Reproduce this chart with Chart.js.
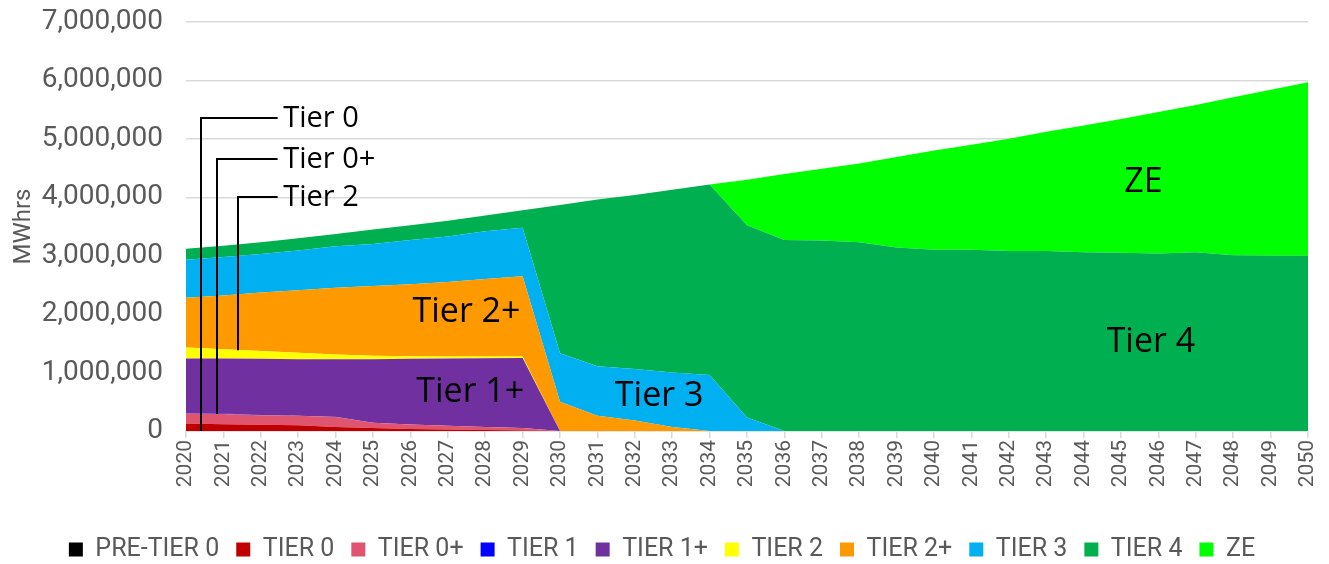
<!DOCTYPE html>
<html>
<head>
<meta charset="utf-8">
<script src="https://cdn.jsdelivr.net/npm/chart.js@4.4.1/dist/chart.umd.min.js"></script>
<style>
  html, body { margin: 0; padding: 0; background: #ffffff; }
  #wrap { width: 1329px; height: 564px; position: relative; }
</style>
</head>
<body>
<div id="wrap"><canvas id="c" width="1329" height="564"></canvas></div>
<script>
const years = ['2020','2021','2022','2023','2024','2025','2026','2027','2028','2029','2030',
  '2031','2032','2033','2034','2035','2036','2037','2038','2039','2040',
  '2041','2042','2043','2044','2045','2046','2047','2048','2049','2050'];

const preTier0 = [0,0,0,0,0,0,0,0,0,0,0,0,0,0,0,0,0,0,0,0,0,0,0,0,0,0,0,0,0,0,0];
const tier0 = [130000,115000,105000,100000,70000,50000,35000,25000,15000,10000,
  0,0,0,0,0,0,0,0,0,0,0,0,0,0,0,0,0,0,0,0,0];
const tier0plus = [170000,175000,165000,160000,170000,90000,75000,65000,55000,40000,
  0,0,0,0,0,0,0,0,0,0,0,0,0,0,0,0,0,0,0,0,0];
const tier1 = [10000,8000,5000,3000,2000,0,0,0,0,0,
  0,0,0,0,0,0,0,0,0,0,0,0,0,0,0,0,0,0,0,0,0];
const tier1plus = [930000,942000,960000,967000,988000,1090000,1125000,1150000,1175000,1200000,
  0,0,0,0,0,0,0,0,0,0,0,0,0,0,0,0,0,0,0,0,0];
const tier2 = [190000,160000,135000,110000,80000,60000,45000,35000,30000,25000,
  0,0,0,0,0,0,0,0,0,0,0,0,0,0,0,0,0,0,0,0,0];
const tier2plus = [850000,920000,1000000,1070000,1140000,1190000,1230000,1275000,1325000,1375000,
  500000,260000,180000,70000,0,0,0,0,0,0,0,0,0,0,0,0,0,0,0,0,0];
const tier3 = [650000,660000,660000,680000,710000,720000,760000,780000,820000,830000,
  830000,850000,880000,930000,960000,230000,0,0,0,0,0,0,0,0,0,0,0,0,0,0,0];
const tier4 = [190000,190000,200000,210000,210000,250000,250000,270000,270000,300000,
  2540000,2850000,2980000,3130000,3260000,3290000,3270000,3260000,3230000,3140000,3100000,
  3100000,3080000,3080000,3060000,3050000,3040000,3060000,3010000,3000000,3000000];
const ze = [0,0,0,0,0,0,0,0,0,0,0,0,0,0,0,
  780000,1130000,1230000,1350000,1550000,1700000,1800000,1920000,2040000,2170000,
  2290000,2420000,2520000,2700000,2840000,2970000];

const seriesNames = ['PRE-TIER 0','TIER 0','TIER 0+','TIER 1','TIER 1+','TIER 2','TIER 2+','TIER 3','TIER 4','ZE'];
const seriesData = [preTier0, tier0, tier0plus, tier1, tier1plus, tier2, tier2plus, tier3, tier4, ze];
const seriesColors = ['#000000','#C00000','#E0546F','#0000FF','#7030A0','#FFFF00','#FF9900','#00B0F0','#00B050','#00FF00'];

const yTicks = [0,1000000,2000000,3000000,4000000,5000000,6000000,7000000];

// annotation texts: [text, year position, value]
const areaLabels = [
  ['Tier 2+', 2027.5, 2030000],
  ['Tier 1+', 2027.6, 660000],
  ['Tier 3', 2032.65, 590000],
  ['Tier 4', 2045.8, 1520000],
  ['ZE', 2045.6, 4250000]
];
// leader labels: [text, vertical line year, bottom value, horizontal line value]
const leaderLabels = [
  ['Tier 0', 2020.4, 0, 5350000],
  ['Tier 0+', 2020.82, 290000, 4650000],
  ['Tier 2', 2021.39, 1380000, 4000000]
];
const leaderEndYear = 2022.45;
const leaderTextYear = 2022.6;

const datasets = seriesNames.map((name, i) => ({
  label: name,
  data: seriesData[i],
  backgroundColor: seriesColors[i],
  borderColor: seriesColors[i],
  borderWidth: 0,
  pointRadius: 0,
  pointHoverRadius: 0,
  tension: 0,
  fill: i === 0 ? 'origin' : '-1'
}));

const annotPlugin = {
  id: 'annot',
  afterDatasetsDraw(chart) {
    const ctx = chart.ctx;
    const xs = chart.scales.x, ys = chart.scales.y;
    const n = years.length - 1;
    const px = (yr) => xs.getPixelForDecimal((yr - Number(years[0])) / n);
    ctx.save();
    ctx.fillStyle = '#000000';
    ctx.textAlign = 'center';
    ctx.textBaseline = 'middle';
    ctx.font = '500 34px "Open Sans", sans-serif';
    areaLabels.forEach(([t, yr, v]) => ctx.fillText(t, px(yr), ys.getPixelForValue(v)));
    ctx.strokeStyle = '#000000';
    ctx.lineWidth = 2;
    ctx.font = '500 29px "Open Sans", sans-serif';
    ctx.textAlign = 'left';
    leaderLabels.forEach(([t, yr, bottom, hv]) => {
      const x = Math.round(px(yr)), yb = ys.getPixelForValue(bottom), yh = Math.round(ys.getPixelForValue(hv));
      ctx.beginPath();
      ctx.moveTo(x, yb);
      ctx.lineTo(x, yh);
      ctx.lineTo(px(leaderEndYear), yh);
      ctx.stroke();
      ctx.fillText(t, px(leaderTextYear), yh + 1);
    });
    ctx.restore();
  }
};

const bgPlugin = {
  id: 'bg',
  beforeDraw(chart) {
    const ctx = chart.ctx;
    ctx.save();
    ctx.fillStyle = '#ffffff';
    ctx.fillRect(0, 0, chart.width, chart.height);
    ctx.restore();
  }
};

new Chart(document.getElementById('c'), {
  type: 'line',
  data: { labels: years, datasets },
  options: {
    responsive: false,
    animation: false,
    devicePixelRatio: 1,
    layout: { padding: { left: 16, right: 21, top: 22, bottom: -8 } },
    plugins: {
      legend: {
        position: 'bottom',
        labels: {
          color: '#595959',
          font: { family: 'Roboto', size: 25 },
          boxWidth: 14,
          boxHeight: 14,
          padding: 17
        }
      },
      tooltip: { enabled: false }
    },
    scales: {
      x: {
        offset: false,
        grid: { display: true, drawOnChartArea: false, drawTicks: true, tickLength: 7, color: '#d9d9d9', lineWidth: 1.5 },
        border: { display: true, color: '#d9d9d9', width: 1.5 },
        ticks: {
          autoSkip: false, minRotation: 90, maxRotation: 90,
          color: '#595959', font: { family: 'Roboto', size: 21 }, padding: 2
        },
        afterFit(s) { s.height = 89; s.paddingLeft = 0; s.paddingRight = 0; }
      },
      y: {
        stacked: true,
        min: 0, max: 7000000,
        afterBuildTicks(s) { s.ticks = yTicks.map(v => ({ value: v })); },
        grid: { color: '#d9d9d9', lineWidth: 1.5, drawTicks: false },
        border: { display: false },
        ticks: {
          color: '#595959', font: { family: 'Roboto', size: 28 }, padding: 23,
          callback: (v) => v.toLocaleString('en-US')
        },
        title: { display: true, text: 'MWhrs', color: '#595959', font: { family: 'Roboto', size: 24 }, padding: { top: -6, bottom: 0 } },
        afterFit(s) { s.width = 170; s.paddingTop = 0; s.paddingBottom = 0; }
      }
    }
  },
  plugins: [bgPlugin, annotPlugin]
});
</script>
</body>
</html>
